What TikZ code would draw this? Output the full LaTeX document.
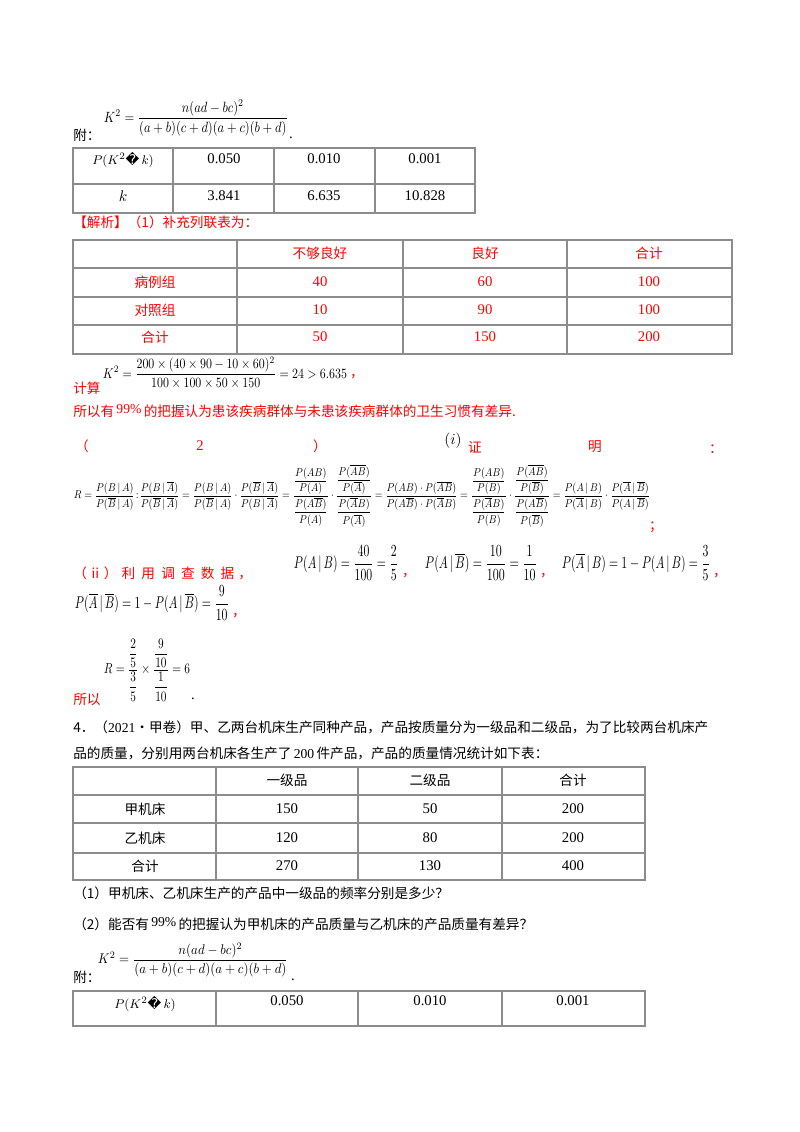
\documentclass[tikz,border=0pt]{standalone}
\usepackage{amsmath}
\usepackage{amssymb}
\usepackage{graphicx}
\usepackage{fontspec}
\setmainfont{Liberation Serif}
\newfontfamily\cjk{Noto Sans CJK SC}
\newfontfamily\dvsans{DejaVu Sans}
\newcommand{\bad}{{\dvsans\char"FFFD}}
\newcommand{\ab}{\overline{A}}
\newcommand{\bb}{\overline{B}}
\definecolor{ansred}{RGB}{255,0,0}
\definecolor{rulegray}{RGB}{140,140,140}

\begin{document}
\begin{tikzpicture}[x=0.025cm, y=-0.025cm,
  txt/.style={inner sep=0pt, font=\cjk\fontsize{9.7}{12}\selectfont},
  num/.style={inner sep=0pt, font=\rmfamily\fontsize{10.5}{12}\selectfont},
  ans/.style={txt, text=ansred},
  ansnum/.style={num, text=ansred},
  rule/.style={draw=rulegray, line width=0.8pt}]

\useasboundingbox (0,0) rectangle (800,1132);

% Note for the first table
\node[inner sep=0pt] (kfa) at (196,118) {\resizebox*{4.6cm}{0.9cm}{$K^2=\dfrac{n(ad-bc)^2}{(a+b)(c+d)(a+c)(b+d)}$}};
\node[txt, anchor=west] (fu1) at (73,135) {附：};
\node[num] (dot1) at (291,138) {.};

% Table 1
\draw[rule] (73,148) rectangle (475,213);
\draw[rule] (73,184) -- (475,184);
\foreach \x in {173,274,375} \draw[rule] (\x,148) -- (\x,213);
\node[num, font=\rmfamily\fontsize{9.5}{12}\selectfont] (pa) at (123,160) {$P(K^2$\bad$\,k)$};
\node[num] (pb) at (224,159) {0.050};
\node[num] (pc) at (324,159) {0.010};
\node[num] (pd) at (425,159) {0.001};
\node[num] (ka) at (123,196) {$k$};
\node[num] (kb) at (224,196) {3.841};
\node[num] (kc) at (324,196) {6.635};
\node[num] (kd) at (425,196) {10.828};

% Answer, part (1)
\node[ans, anchor=west] (jx) at (73,222) {【解析】（1）补充列联表为：};

% Table 2
\draw[rule] (73,240) rectangle (732,354);
\foreach \y in {268,297,325} \draw[rule] (73,\y) -- (732,\y);
\foreach \x in {237,403,567} \draw[rule] (\x,240) -- (\x,354);
\node[ans] (h1) at (320,253) {不够良好};
\node[ans] (h2) at (485,253) {良好};
\node[ans] (h3) at (649,253) {合计};
\node[ans] (r1) at (155,282) {病例组};
\node[ans] (r2) at (155,310) {对照组};
\node[ans] (r3) at (155,337) {合计};
\node[ansnum] (c11) at (320,282) {40};
\node[ansnum] (c12) at (485,282) {60};
\node[ansnum] (c13) at (649,282) {100};
\node[ansnum] (c21) at (320,310) {10};
\node[ansnum] (c22) at (485,310) {90};
\node[ansnum] (c23) at (649,310) {100};
\node[ansnum] (c31) at (320,337) {50};
\node[ansnum] (c32) at (485,337) {150};
\node[ansnum] (c33) at (649,337) {200};

% Computing K^2
\node[inner sep=0pt] (kcalc) at (225,373) {\resizebox*{6.1cm}{0.8cm}{$K^2=\dfrac{200\times(40\times90-10\times60)^2}{100\times100\times50\times150}=24>6.635$}};
\node[ans, anchor=west] (js) at (73,388) {计算};
\node[ans] (cm1) at (357,377) {，};
\node[ans, anchor=west] (sy1) at (73,411) {所以有\,{\rmfamily\raisebox{2pt}{99\%}}\,的把握认为患该疾病群体与未患该疾病群体的卫生习惯有差异.};

% Part (2)
\node[ans] (lp) at (82,446) {（};
\node[ansnum] (two) at (200,446) {2};
\node[ans] (rp) at (320,446) {）};
\node[num] (ii) at (453,441) {$(i)$};
\node[ans] (zh) at (475,447) {证};
\node[ans] (ming) at (595,447) {明};
\node[ans] (col1) at (716,449) {：};
\node[inner sep=0pt] (rproof) at (362,496) {\resizebox*{14.4cm}{1.55cm}{$R=\dfrac{P(B\,|\,A)}{P(\bb\,|\,A)}\!:\!\dfrac{P(B\,|\,\ab)}{P(\bb\,|\,\ab)}=\dfrac{P(B\,|\,A)}{P(\bb\,|\,A)}\cdot\dfrac{P(\bb\,|\,\ab)}{P(B\,|\,\ab)}=\dfrac{\dfrac{P(AB)}{P(A)}}{\dfrac{P(A\bb)}{P(A)}}\cdot\dfrac{\dfrac{P(\ab\bb)}{P(\ab)}}{\dfrac{P(\ab B)}{P(\ab)}}=\dfrac{P(AB)\cdot P(\ab\bb)}{P(A\bb)\cdot P(\ab B)}=\dfrac{\dfrac{P(AB)}{P(B)}}{\dfrac{P(\ab B)}{P(B)}}\cdot\dfrac{\dfrac{P(\ab\bb)}{P(\bb)}}{\dfrac{P(A\bb)}{P(\bb)}}=\dfrac{P(A\,|\,B)}{P(\ab\,|\,B)}\cdot\dfrac{P(\ab\,|\,\bb)}{P(A\,|\,\bb)}$}};
\node[ans] (sc1) at (656,527) {；};

% (ii)
\node[ans, anchor=west] (iil) at (73,573) {（\hspace{0.35em}ii\hspace{0.35em}）\hspace{0.3em}利\hspace{0.45em}用\hspace{0.45em}调\hspace{0.45em}查\hspace{0.45em}数\hspace{0.45em}据\hspace{0.3em}，};
\node[inner sep=0pt] (f1) at (346,563) {\resizebox*{2.6cm}{0.85cm}{$P(A\,|\,B)=\dfrac{40}{100}=\dfrac{2}{5}$}};
\node[ans] (cm2) at (409,576) {，};
\node[inner sep=0pt] (f2) at (481,563) {\resizebox*{2.8cm}{0.85cm}{$P(A\,|\,\bb)=\dfrac{10}{100}=\dfrac{1}{10}$}};
\node[ans] (cm3) at (547,576) {，};
\node[inner sep=0pt] (f3) at (636,563) {\resizebox*{3.7cm}{0.85cm}{$P(\ab\,|\,B)=1-P(A\,|\,B)=\dfrac{3}{5}$}};
\node[ans] (cm4) at (720,576) {，};
\node[inner sep=0pt] (f4) at (152,603) {\resizebox*{3.85cm}{0.85cm}{$P(\ab\,|\,\bb)=1-P(A\,|\,\bb)=\dfrac{9}{10}$}};
\node[ans] (cm5) at (239,616) {，};
\node[inner sep=0pt] (f5) at (147,670) {\resizebox*{2.15cm}{1.55cm}{$R=\dfrac{\dfrac{2}{5}}{\dfrac{3}{5}}\times\dfrac{\dfrac{9}{10}}{\dfrac{1}{10}}=6$}};
\node[ans, anchor=west] (sy2) at (73,699) {所以};
\node[num] (dot2) at (193,699) {.};

% Question 4
\node[txt, anchor=west] (q4a) at (73,727) {4．（{\rmfamily 2021}•甲卷）甲、乙两台机床生产同种产品，产品按质量分为一级品和二级品，为了比较两台机床产};
\node[txt, anchor=west] (q4b) at (73,753) {品的质量，分别用两台机床各生产了\,{\rmfamily 200}\,件产品，产品的质量情况统计如下表：};

% Table 3
\draw[rule] (73,767) rectangle (645,880);
\foreach \y in {795,823,853} \draw[rule] (73,\y) -- (645,\y);
\foreach \x in {216,358,502} \draw[rule] (\x,767) -- (\x,880);
\node[txt] (g1) at (287,780) {一级品};
\node[txt] (g2) at (430,780) {二级品};
\node[txt] (g3) at (573,780) {合计};
\node[txt] (m1) at (145,809) {甲机床};
\node[txt] (m2) at (145,838) {乙机床};
\node[txt] (m3) at (145,866) {合计};
\node[num] (d11) at (287,809) {150};
\node[num] (d12) at (430,809) {50};
\node[num] (d13) at (573,809) {200};
\node[num] (d21) at (287,838) {120};
\node[num] (d22) at (430,838) {80};
\node[num] (d23) at (573,838) {200};
\node[num] (d31) at (287,866) {270};
\node[num] (d32) at (430,866) {130};
\node[num] (d33) at (573,866) {400};

\node[txt, anchor=west] (q1) at (73,893) {（1）甲机床、乙机床生产的产品中一级品的频率分别是多少？};
\node[txt, anchor=west] (q2) at (73,924) {（2）能否有\,{\rmfamily\raisebox{2pt}{99\%}}\,的把握认为甲机床的产品质量与乙机床的产品质量有差异？};

% Note for the last table
\node[inner sep=0pt] (kfb) at (193,960) {\resizebox*{4.75cm}{0.85cm}{$K^2=\dfrac{n(ad-bc)^2}{(a+b)(c+d)(a+c)(b+d)}$}};
\node[txt, anchor=west] (fu2) at (73,977) {附：};
\node[num] (dot3) at (293,980) {.};

% Table 4
\draw[rule] (73,991) rectangle (645,1026);
\foreach \x in {216,358,502} \draw[rule] (\x,991) -- (\x,1026);
\node[num, font=\rmfamily\fontsize{9.5}{12}\selectfont] (qa) at (145,1004) {$P(K^2$\bad$\,k)$};
\node[num] (qb) at (287,1001) {0.050};
\node[num] (qc) at (430,1001) {0.010};
\node[num] (qd) at (573,1001) {0.001};

\end{tikzpicture}
\end{document}
